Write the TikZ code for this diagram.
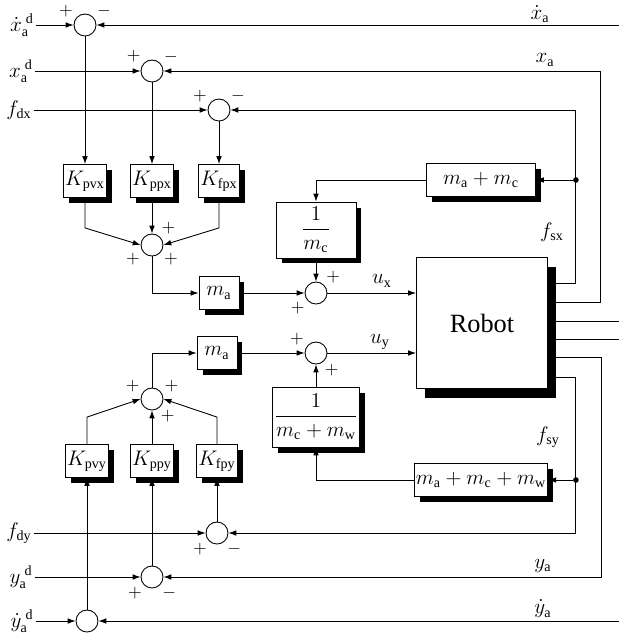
\documentclass[tikz,border=0pt]{standalone}
\usepackage{fontspec}
\setmainfont{Liberation Serif}
\usetikzlibrary{arrows.meta,calc}
\tikzset{
  block/.style={
    draw,
    fill=white,
    inner sep = 1pt,
    minimum width=0.8cm,
    minimum height=0.66cm,
    font=\large,
    preaction={fill=black, transform canvas={shift={(0.11cm,-0.11cm)}}}
  },
  bigblock/.style={
    draw,
    fill=white,
    minimum width=2.62cm,
    minimum height=2.62cm,
    font=\fontsize{15}{18}\selectfont,
    preaction={fill=black, transform canvas={shift={(0.17cm,-0.19cm)}}}
  },
  sumnode/.style={
    draw,
    fill=white,
    shape = circle,
    minimum size=0.44cm,
    inner sep = 0pt
  },
  sign/.style={
    font=\normalsize,
    inner sep = 1pt
  },
  junction/.style={
    shape = circle,
    fill,
    inner sep = 0pt,
    minimum size=3.2pt
  },
  signal/.style={
    font=\large,
    inner sep = 1pt
  }
}

\begin{document}
\begin{tikzpicture}[x=0.02cm, y=-0.02cm, line width=0.5pt,
    >={Latex[length=4.5pt,width=3.2pt]}]
        \useasboundingbox (0,0) rectangle (619,633);
        % x channel
        \node[sumnode, label={[sign]150:$+$}, label={[sign]30:$-$}] (Sxv) at (85,25) {};
        \node[sumnode, label={[sign]145:$+$}, label={[sign]30:$-$}] (Sxp) at (152,71) {};
        \node[sumnode, label={[sign]150:$+$}, label={[sign]30:$-$}] (Sxf) at (219,110) {};
        \node[block] (Kpvx) at (85,181) {$K_{\mathrm{pvx}}$};
        \node[block] (Kppx) at (152,181) {$K_{\mathrm{ppx}}$};
        \node[block] (Kfpx) at (219,181) {$K_{\mathrm{fpx}}$};
        \node[sumnode, label={[sign]50:$+$}, label={[sign]210:$+$}, label={[sign]330:$+$}] (Skx) at (152,245) {};
        \node[block] (Max) at (219,293) {$m_{\mathrm{a}}$};
        \node[block, minimum width=1.6cm, minimum height=1.12cm] (Invmc) at (316,230) {$\displaystyle\frac{1}{m_{\mathrm{c}}}$};
        \node[sumnode, label={[sign]45:$+$}, label={[sign]215:$+$}] (Sux) at (316,293) {};
        \node[block, minimum width=2.18cm] (Mamc) at (481,180) {$m_{\mathrm{a}}+m_{\mathrm{c}}$};
        \node[bigblock] (Robot) at (482,323) {Robot};
        % y channel
        \node[block] (May) at (217,353) {$m_{\mathrm{a}}$};
        \node[sumnode, label={[sign]150:$+$}, label={[sign]305:$+$}] (Suy) at (316,353) {};
        \node[sumnode, label={[sign]155:$+$}, label={[sign]25:$+$}, label={[sign]305:$+$}] (Sky) at (152,399) {};
        \node[block, minimum width=1.64cm, minimum height=1.2cm] (Invmcw) at (316,417) {$\displaystyle\frac{1}{m_{\mathrm{c}}+m_{\mathrm{w}}}$};
        \node[block, minimum width=2.18cm] (Mamcmw) at (481,480) {$m_{\mathrm{a}}+m_{\mathrm{c}}+m_{\mathrm{w}}$};
        \node[block] (Kpvy) at (87,461) {$K_{\mathrm{pvy}}$};
        \node[block] (Kppy) at (152,461) {$K_{\mathrm{ppy}}$};
        \node[block] (Kfpy) at (217,461) {$K_{\mathrm{fpy}}$};
        \node[sumnode, label={[sign]225:$+$}, label={[sign]315:$-$}] (Syf) at (217,533) {};
        \node[sumnode, label={[sign]225:$+$}, label={[sign]315:$-$}] (Syp) at (152,577) {};
        \node[sumnode] (Syv) at (87,621) {};
        % inputs and outputs
        \node[signal] (xvd) at (22,25) {$\dot{x}_{\mathrm{a}}^{\;\mathrm{d}}$};
        \node[signal] (xpd) at (21,71) {$x_{\mathrm{a}}^{\;\mathrm{d}}$};
        \node[signal] (fdx) at (19,110) {$f_{\mathrm{dx}}$};
        \node[signal] (fdy) at (19,533) {$f_{\mathrm{dy}}$};
        \node[signal] (ypd) at (21,577) {$y_{\mathrm{a}}^{\;\mathrm{d}}$};
        \node[signal] (yvd) at (22,621) {$\dot{y}_{\mathrm{a}}^{\;\mathrm{d}}$};
        \node[signal] (xv) at (540,14) {$\dot{x}_{\mathrm{a}}$};
        \node[signal] (xp) at (545,60) {$x_{\mathrm{a}}$};
        \node[signal] (fsx) at (552,232) {$f_{\mathrm{sx}}$};
        \node[signal] (ux) at (382,281) {$u_{\mathrm{x}}$};
        \node[signal] (uy) at (380,342) {$u_{\mathrm{y}}$};
        \node[signal] (fsy) at (548,437) {$f_{\mathrm{sy}}$};
        \node[signal] (yp) at (543,566) {$y_{\mathrm{a}}$};
        \node[signal] (yv) at (543,609) {$\dot{y}_{\mathrm{a}}$};
        \coordinate (edge) at (619,0);
        \coordinate (xvout) at (619,25);
        \coordinate (yvout) at (619,621);

        \draw[->] (xvd) -- (Sxv.west);
        \draw[->] (xpd) -- (Sxp.west);
        \draw[->] (fdx) -- (Sxf.west);
        \draw[->] (fdy) -- (Syf.west);
        \draw[->] (ypd) -- (Syp.west);
        \draw[->] (yvd) -- (Syv.west);
        \draw[->] (xvout) -- (Sxv.east);
        \draw[->] (yvout) -- (Syv.east);

        \draw[->] (Sxv.south) -- (Kpvx.north);
        \draw[->] (Sxp.south) -- (Kppx.north);
        \draw[->] (Sxf.south) -- (Kfpx.north);
        \draw[->] (Kpvx.south) -- ++(0,30) -- (Skx.west);
        \draw[->] (Kppx.south) -- (Skx.north);
        \draw[->] (Kfpx.south) -- ++(0,30) -- (Skx.east);
        \draw[->] (Skx.south) |- (Max.west);
        \draw[->] (Max.east) -- (Sux.west);
        \draw[->] (Invmc.south) -- (Sux.north);
        \draw[->] (Sux.east) -- (Sux.east -| Robot.west);
        \draw[->] (Mamc.west) -| (Invmc.north);

        \draw[->] (Syv.north) -- (Kpvy.south);
        \draw[->] (Syp.north) -- (Kppy.south);
        \draw[->] (Syf.north) -- (Kfpy.south);
        \draw[->] (Kpvy.north) -- ++(0,-27) -- (Sky.west);
        \draw[->] (Kppy.north) -- (Sky.south);
        \draw[->] (Kfpy.north) -- ++(0,-27) -- (Sky.east);
        \draw[->] (Sky.north) |- (May.west);
        \draw[->] (May.east) -- (Suy.west);
        \draw[->] (Invmcw.north) -- (Suy.south);
        \draw[->] (Suy.east) -- (Suy.east -| Robot.west);
        \draw[->] (Mamcmw.west) -| (Invmcw.south);

        % feedback from the robot
        \draw[->] ($(Robot.east)+(0,-40)$) -- ++(28,0) coordinate (cx) |- (Sxf.east);
        \draw[->] ($(Robot.east)+(0,-21)$) -- ++(53,0) |- (Sxp.east);
        \draw ($(Robot.east)+(0,-2)$) coordinate (o1) -- (o1 -| edge);
        \draw ($(Robot.east)+(0,16)$) coordinate (o2) -- (o2 -| edge);
        \draw[->] ($(Robot.east)+(0,34)$) -- ++(54,0) |- (Syp.east);
        \draw[->] ($(Robot.east)+(0,54)$) -- ++(28,0) coordinate (cy) |- (Syf.east);
        \node[junction] (jx) at (cx |- Mamc) {};
        \node[junction] (jy) at (cy |- Mamcmw) {};
        \draw[->] (jx) -- (Mamc.east);
        \draw[->] (jy) -- (Mamcmw.east);
    \end{tikzpicture}
\end{document}
